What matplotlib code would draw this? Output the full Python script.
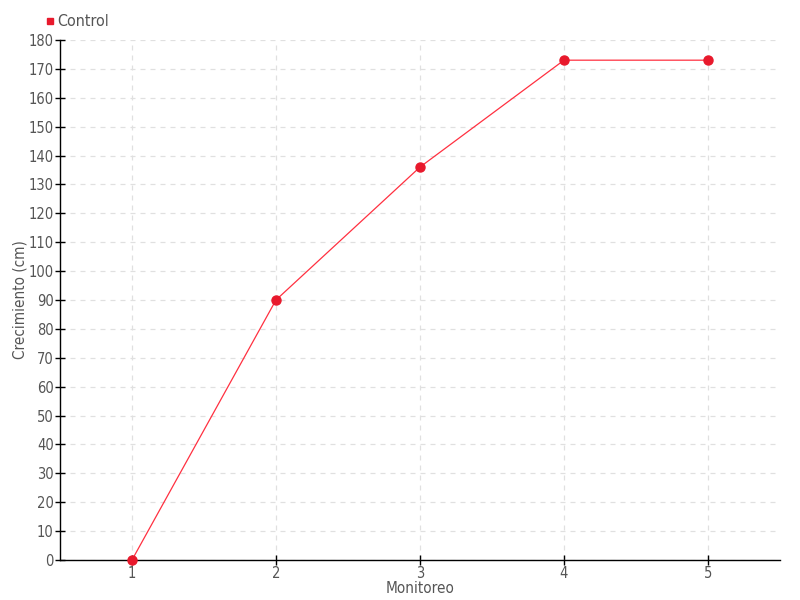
import matplotlib
matplotlib.use("Agg")
import matplotlib.pyplot as plt
from matplotlib.lines import Line2D

# data
monitoreo = [1, 2, 3, 4, 5]
control = [0, 90, 136, 173, 173]
y_ticks = list(range(0, 181, 10))

plt.rcParams['font.family'] = ['DejaVu Sans']
plt.rcParams['font.stretch'] = 'condensed'

fig = plt.figure(figsize=(8, 6), dpi=100)
ax = fig.add_axes([0.075, 0.0667, 0.9, 0.8667])

ax.plot(monitoreo, control, color='#ff3040', linewidth=0.9, zorder=3)
ax.plot(monitoreo, control, linestyle='none', marker='o', markersize=6.5,
        color='#e8192c', zorder=4, clip_on=False)

ax.set_xlim(0.5, 5.5)
ax.set_ylim(0, 180)
ax.set_xticks(monitoreo)
ax.set_yticks(y_ticks)

ax.grid(True, color='#e0e0e0', linestyle=(0, (4, 4)), linewidth=0.9)
ax.set_axisbelow(True)

for side in ['top', 'right']:
    ax.spines[side].set_visible(False)
for side in ['left', 'bottom']:
    ax.spines[side].set_color('black')
    ax.spines[side].set_linewidth(1.0)

ax.tick_params(axis='both', direction='inout', length=7, width=1,
               colors='black', labelcolor='#555555', labelsize=10.5, pad=1)

ax.set_xlabel('Monitoreo', color='#555555', fontsize=11, labelpad=0)
ax.set_ylabel('Crecimiento (cm)', color='#555555', fontsize=11, labelpad=1)

handle = Line2D([], [], linestyle='none', marker='s', markersize=5, color='#e8192c')
fig.legend([handle], ['Control'], loc='upper left', bbox_to_anchor=(0.043, 0.995),
           frameon=False, fontsize=11.5, handlelength=0.5, handletextpad=0.2,
           labelcolor='#555555', borderaxespad=0.3)

fig.savefig('out.png', dpi=100)
